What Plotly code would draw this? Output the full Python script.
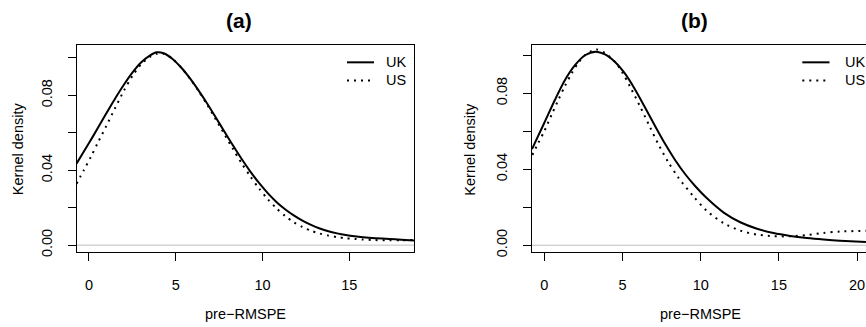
import plotly.graph_objects as go

# ---------------- data ----------------
a_uk_x = [-0.72, 0, 0.5, 1.0, 1.5, 2.0, 2.5, 3.0, 3.5, 3.9, 4.3, 4.8, 5.3, 5.8, 6.3, 6.8, 7.3,
          7.8, 8.3, 8.8, 9.3, 9.8, 10.3, 10.8, 11.3, 11.8, 12.3, 12.8, 13.3, 13.8, 14.3, 14.8,
          15.3, 15.8, 16.5, 17.3, 18.0, 18.73]
a_uk_y = [0.0435, 0.0545, 0.0624, 0.0704, 0.0782, 0.0855, 0.0921, 0.0975, 0.1012, 0.1030,
          0.1025, 0.0996, 0.0950, 0.0893, 0.0828, 0.0758, 0.0683, 0.0607, 0.0532, 0.0460,
          0.0393, 0.0332, 0.0278, 0.0231, 0.0192, 0.0159, 0.0131, 0.0108, 0.0089, 0.0074,
          0.0063, 0.0054, 0.0047, 0.0042, 0.0037, 0.0033, 0.0029, 0.0025]

a_us_x = [-0.72, -0.3, 0.1, 0.5, 1.0, 1.5, 2.0, 2.5, 3.0, 3.5, 3.9, 4.3, 4.8, 5.3, 5.8, 6.3,
          6.8, 7.3, 7.8, 8.3, 8.8, 9.3, 9.8, 10.3, 10.8, 11.3, 11.8, 12.3, 12.8, 13.3, 13.8,
          14.3, 14.8, 15.3, 15.8, 16.5, 17.3, 18.0, 18.73]
a_us_y = [0.0328, 0.0400, 0.0470, 0.0545, 0.0637, 0.0731, 0.0823, 0.0903, 0.0966, 0.1005,
          0.1022, 0.1022, 0.0996, 0.0950, 0.0892, 0.0825, 0.0752, 0.0673, 0.0593, 0.0513,
          0.0437, 0.0367, 0.0303, 0.0246, 0.0197, 0.0156, 0.0123, 0.0097, 0.0077, 0.0062,
          0.0051, 0.0043, 0.0037, 0.0033, 0.0030, 0.0027, 0.0026, 0.0026, 0.0028]

b_uk_x = [-0.79, 0, 0.68, 1.32, 1.96, 2.6, 3.28, 3.88, 4.52, 5.16, 5.8, 6.44, 7.08, 7.72, 8.36,
          9.0, 9.64, 10.4, 11.47, 12.53, 13.6, 14.66, 15.72, 16.79, 17.85, 18.9, 20.57]
b_uk_y = [0.0506, 0.0645, 0.0766, 0.0870, 0.0948, 0.1000, 0.1019, 0.1005, 0.0965, 0.0903,
          0.0820, 0.0725, 0.0628, 0.0534, 0.0449, 0.0375, 0.0312, 0.0247, 0.0172, 0.0121,
          0.0087, 0.0064, 0.0049, 0.0038, 0.0030, 0.0024, 0.0017]

b_us_x = [-0.77, -0.38, 0, 0.47, 0.9, 1.32, 1.75, 2.17, 2.6, 3.03, 3.35, 3.88, 4.52, 4.95, 5.48,
          6.12, 6.76, 7.29, 7.93, 8.57, 9.53, 10.4, 11.47, 12.53, 13.6, 14.66, 15.72, 16.79,
          17.85, 18.9, 20.57]
b_us_y = [0.0475, 0.0540, 0.0601, 0.0688, 0.0766, 0.0839, 0.0905, 0.0960, 0.1000, 0.1023,
          0.1030, 0.1012, 0.0965, 0.0915, 0.0835, 0.0731, 0.0621, 0.0532, 0.0437, 0.0356,
          0.0258, 0.0180, 0.0116, 0.0077, 0.0056, 0.0048, 0.0047, 0.0054, 0.0065, 0.0072,
          0.0076]

panel_titles = ["(a)", "(b)"]
series_names = ["UK", "US"]
x_title = "pre\u2212RMSPE"
y_title = "Kernel density"
y_tickvals = [0.00, 0.02, 0.04, 0.06, 0.08, 0.10]
y_ticktext = ["0.00", "", "0.04", "", "0.08", ""]
a_x_tickvals = [0, 5, 10, 15]
b_x_tickvals = [0, 5, 10, 15, 20]

# ---------------- layout constants ----------------
W, H = 866, 327
FONT = "Liberation Sans, Arial, Helvetica, sans-serif"
FS = 14.5

def px(xp):
    return xp / W

def py(yp):
    return 1 - yp / H

fig = go.Figure()

solid = dict(color="black", width=2, smoothing=0.8)
dotted = dict(color="black", width=2, dash="2px,5px", smoothing=0.8)

fig.add_trace(go.Scatter(x=a_uk_x, y=a_uk_y, mode="lines", line=solid, line_shape="spline",
                         xaxis="x", yaxis="y", showlegend=False, name=series_names[0]))
fig.add_trace(go.Scatter(x=a_us_x, y=a_us_y, mode="lines", line=dotted, line_shape="spline",
                         xaxis="x", yaxis="y", showlegend=False, name=series_names[1]))
fig.add_trace(go.Scatter(x=b_uk_x, y=b_uk_y, mode="lines", line=solid, line_shape="spline",
                         xaxis="x2", yaxis="y2", showlegend=False, name=series_names[0]))
fig.add_trace(go.Scatter(x=b_us_x, y=b_us_y, mode="lines", line=dotted, line_shape="spline",
                         xaxis="x2", yaxis="y2", showlegend=False, name=series_names[1]))

axis_common = dict(showgrid=False, zeroline=False, showline=True, linecolor="black",
                   linewidth=1, ticks="outside", ticklen=8, tickwidth=1, tickcolor="black",
                   tickfont=dict(family=FONT, size=FS, color="black"))

ydom = [py(256), py(45.5)]

fig.update_layout(
    width=W, height=H,
    margin=dict(l=0, r=0, t=0, b=0),
    paper_bgcolor="white", plot_bgcolor="white",
    xaxis=dict(domain=[px(76.5), px(414)], range=[-0.72, 18.73], tickvals=a_x_tickvals,
               mirror=True, anchor="y", ticklabelstandoff=12, **axis_common),
    yaxis=dict(domain=ydom, range=[-0.0037, 0.1070], tickvals=y_tickvals, ticktext=y_ticktext,
               tickangle=-90, mirror=True, anchor="x", ticklabelstandoff=10, **axis_common),
    xaxis2=dict(domain=[px(532), 1.0], range=[-0.79, 20.57], tickvals=b_x_tickvals,
                mirror=True, anchor="y2", ticklabelstandoff=12, **axis_common),
    yaxis2=dict(domain=ydom, range=[-0.0036, 0.1055], tickvals=y_tickvals, ticktext=y_ticktext,
                tickangle=-90, mirror=False, anchor="x2", ticklabelstandoff=10, **axis_common),
)

# zero reference lines (gray)
for xa, ya in (("x", "y"), ("x2", "y2")):
    fig.add_shape(type="line", xref=f"{xa} domain", yref=ya, x0=0, x1=1, y0=0, y1=0,
                  line=dict(color="#bebebe", width=1), layer="below")

# titles and axis titles
ann = []
for cx, t in ((239, panel_titles[0]), (694, panel_titles[1])):
    ann.append(dict(x=px(cx), y=py(21), text=f"<b>{t}</b>", showarrow=False,
                    xref="paper", yref="paper", xanchor="center", yanchor="middle",
                    font=dict(family=FONT, size=21, color="black")))
for cx in (245, 700.5):
    ann.append(dict(x=px(cx), y=py(319), text=x_title, showarrow=False, xref="paper",
                    yref="paper", xanchor="center", yanchor="middle",
                    font=dict(family=FONT, size=FS, color="black")))
for cx in (18, 470.5):
    ann.append(dict(x=px(cx), y=py(151.5), text=y_title, showarrow=False, xref="paper",
                    yref="paper", xanchor="center", yanchor="middle", textangle=-90,
                    font=dict(family=FONT, size=FS, color="black")))

# legends
for (lx0, lx1, tx) in ((347, 374, 384), (802.3, 829.5, 842.5)):
    for i, (yy, style) in enumerate(((63.3, solid), (81.7, dotted))):
        st = {k: v for k, v in style.items() if k != "smoothing"}
        fig.add_shape(type="line", xref="paper", yref="paper", x0=px(lx0), x1=px(lx1),
                      y0=py(yy), y1=py(yy), line=st)
        ann.append(dict(x=px(tx), y=py(yy), text=series_names[i], showarrow=False,
                        xref="paper", yref="paper", xanchor="left", yanchor="middle",
                        font=dict(family=FONT, size=FS, color="black")))

fig.update_layout(annotations=ann)

# remove the default 8px page margin so the figure fills the 866x327 window exactly
fig.write_html("out.html",
               config={"displayModeBar": False, "staticPlot": True},
               post_script="document.body.style.margin='0';"
                           "document.body.style.overflow='hidden';")
